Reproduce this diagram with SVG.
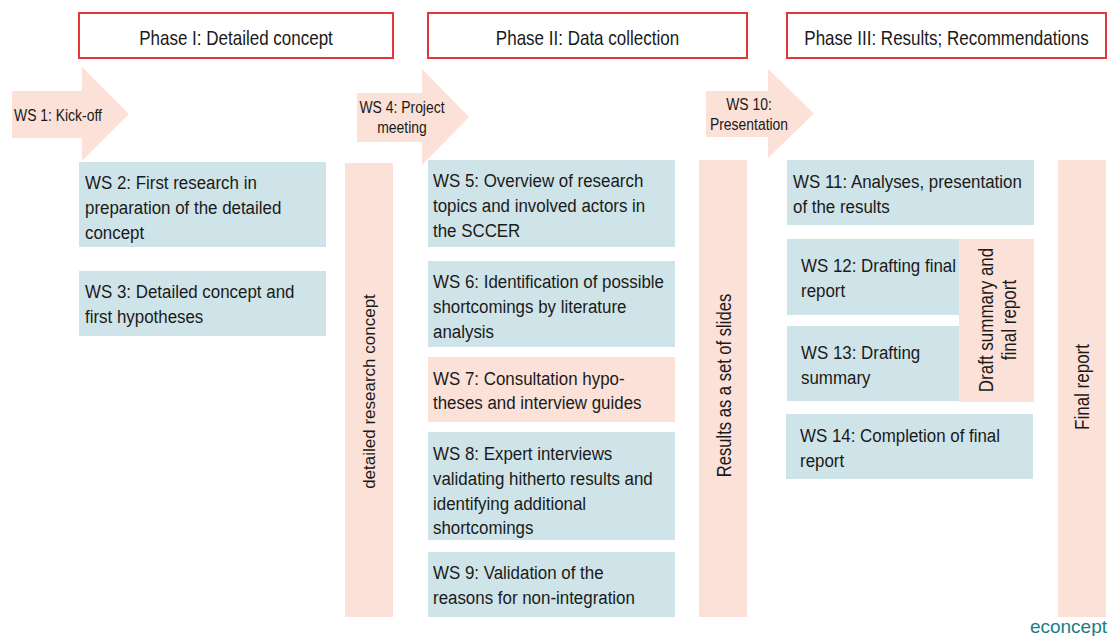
<svg xmlns="http://www.w3.org/2000/svg" width="1111" height="636" viewBox="0 0 1111 636">
<style>
text{font-family:"Liberation Sans",Arial,sans-serif;fill:#1a1a1a}
.phase{fill:#ffffff;stroke:#e2363a;stroke-width:2}
.pt{font-size:21px;text-anchor:middle}
.arrow{fill:#fbe1d8}
.at{font-size:16px}
.ac{font-size:16px;text-anchor:middle}
.blue{fill:#cfe4e9}
.pink{fill:#fbe1d8}
.wt{font-size:19px}
.rt{text-anchor:middle}
.logo{font-size:19px;fill:#1c7c84;text-anchor:end}
</style>
<rect width="1111" height="636" fill="#ffffff"/>
<g id="connectors"/>
<g id="phase1"><rect class="phase" x="79" y="13" width="314" height="45"/><text class="pt" transform="translate(236,44.5) scale(0.81,1)">Phase I: Detailed concept</text></g>
<g id="phase2"><rect class="phase" x="428" y="13" width="319" height="45"/><text class="pt" transform="translate(587.5,44.5) scale(0.81,1)">Phase II: Data collection</text></g>
<g id="phase3"><rect class="phase" x="787" y="13" width="319" height="45"/><text class="pt" transform="translate(946.5,44.5) scale(0.81,1)">Phase III: Results; Recommendations</text></g>
<g id="ws1"><polygon class="arrow" points="12,91 82,91 82,67 129,114 82,161 82,138 12,138"/><text class="at" transform="translate(14,120.5) scale(0.87,1)">WS 1: Kick-off</text></g>
<g id="ws4"><polygon class="arrow" points="357,93 422,93 422,69 469,117 422,165 422,142 357,142"/><text class="ac" transform="translate(402,113) scale(0.87,1)"><tspan x="0" y="0">WS 4: Project</tspan><tspan x="0" y="20">meeting</tspan></text></g>
<g id="ws10"><polygon class="arrow" points="706,91 768,91 768,69 814,113.5 768,158 768,137 706,137"/><text class="ac" transform="translate(749,110) scale(0.87,1)"><tspan x="0" y="0">WS 10:</tspan><tspan x="0" y="20">Presentation</tspan></text></g>
<g id="ws2"><rect class="blue" x="79" y="162" width="247" height="85"/><text class="wt" transform="translate(85,189.3) scale(0.89,1)"><tspan x="0" y="0">WS 2: First research in</tspan><tspan x="0" y="25">preparation of the detailed</tspan><tspan x="0" y="50">concept</tspan></text></g>
<g id="ws3"><rect class="blue" x="79" y="271" width="247" height="65"/><text class="wt" transform="translate(85,298.3) scale(0.89,1)"><tspan x="0" y="0">WS 3: Detailed concept and</tspan><tspan x="0" y="25">first hypotheses</tspan></text></g>
<g id="concept"><rect class="pink" x="345" y="163" width="48" height="454"/><text class="rt" font-size="17" transform="translate(375,391.5) rotate(-90)">detailed research concept</text></g>
<g id="ws5"><rect class="blue" x="428" y="160" width="247" height="87"/><text class="wt" transform="translate(433,187.3) scale(0.89,1)"><tspan x="0" y="0">WS 5: Overview of research</tspan><tspan x="0" y="25">topics and involved actors in</tspan><tspan x="0" y="50">the SCCER</tspan></text></g>
<g id="ws6"><rect class="blue" x="428" y="261" width="247" height="86"/><text class="wt" transform="translate(433,288.3) scale(0.89,1)"><tspan x="0" y="0">WS 6: Identification of possible</tspan><tspan x="0" y="25">shortcomings by literature</tspan><tspan x="0" y="50">analysis</tspan></text></g>
<g id="ws7"><rect class="pink" x="428" y="357" width="247" height="65"/><text class="wt" transform="translate(433,385) scale(0.89,1)"><tspan x="0" y="0">WS 7: Consultation hypo-</tspan><tspan x="0" y="24.5">theses and interview guides</tspan></text></g>
<g id="ws8"><rect class="blue" x="428" y="432" width="247" height="108"/><text class="wt" transform="translate(433,460) scale(0.89,1)"><tspan x="0" y="0">WS 8: Expert interviews</tspan><tspan x="0" y="25">validating hitherto results and</tspan><tspan x="0" y="50">identifying additional</tspan><tspan x="0" y="74.5">shortcomings</tspan></text></g>
<g id="ws9"><rect class="blue" x="428" y="552" width="247" height="65"/><text class="wt" transform="translate(433,579.3) scale(0.89,1)"><tspan x="0" y="0">WS 9: Validation of the</tspan><tspan x="0" y="24.5">reasons for non-integration</tspan></text></g>
<g id="slides"><rect class="pink" x="699" y="160" width="48" height="457"/><text class="rt" font-size="20" transform="translate(730.5,385.5) rotate(-90) scale(0.83,1)">Results as a set of slides</text></g>
<g id="ws11"><rect class="blue" x="787" y="160" width="247" height="65"/><text class="wt" transform="translate(793,188.3) scale(0.89,1)"><tspan x="0" y="0">WS 11: Analyses, presentation</tspan><tspan x="0" y="24.5">of the results</tspan></text></g>
<g id="ws12"><rect class="blue" x="787" y="239" width="172" height="76"/><text class="wt" transform="translate(801,271.7) scale(0.89,1)"><tspan x="0" y="0">WS 12: Drafting final</tspan><tspan x="0" y="25">report</tspan></text></g>
<g id="ws13"><rect class="blue" x="787" y="326" width="172" height="75"/><text class="wt" transform="translate(801,359.3) scale(0.89,1)"><tspan x="0" y="0">WS 13: Drafting</tspan><tspan x="0" y="25">summary</tspan></text></g>
<g id="draft"><rect class="pink" x="959" y="239" width="75" height="163"/><text class="rt" font-size="20" transform="translate(992.5,320) rotate(-90) scale(0.85,1)"><tspan x="0" y="0">Draft summary and</tspan><tspan x="0" y="24">final report</tspan></text></g>
<g id="ws14"><rect class="blue" x="786" y="414" width="247" height="65"/><text class="wt" transform="translate(800,442.3) scale(0.89,1)"><tspan x="0" y="0">WS 14: Completion of final</tspan><tspan x="0" y="25">report</tspan></text></g>
<g id="final"><rect class="pink" x="1058" y="160" width="48" height="457"/><text class="rt" font-size="20" transform="translate(1089,387) rotate(-90) scale(0.85,1)">Final report</text></g>
<g id="logo"><text class="logo" x="1107" y="633">econcept</text></g>
</svg>
